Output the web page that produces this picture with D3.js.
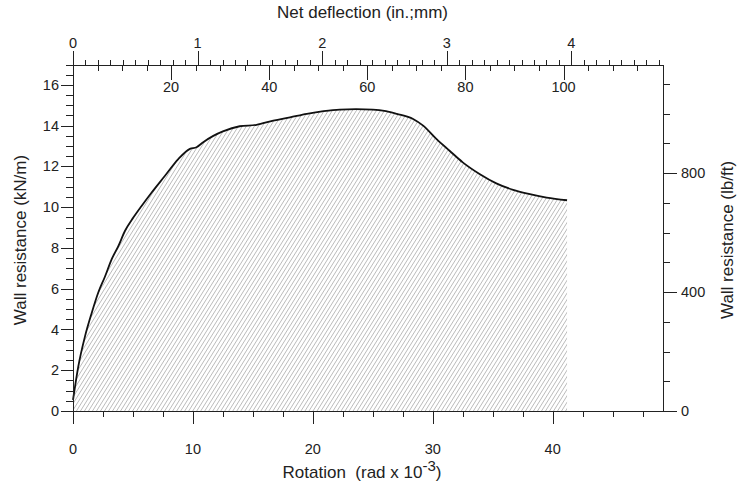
<!DOCTYPE html>
<html>
<head>
<meta charset="utf-8">
<script src="https://cdn.jsdelivr.net/npm/d3@7/dist/d3.min.js"></script>
<style>
  body { margin: 0; background: #fff; }
  svg { display: block; font-family: "Liberation Sans", Arial, sans-serif; }
  .axis path, .axis line { stroke: #222; stroke-width: 1; shape-rendering: crispEdges; }
  .axis text { fill: #222; font-size: 14.5px; font-family: "Liberation Sans", Arial, sans-serif; }
  .title { fill: #222; font-size: 17px; font-family: "Liberation Sans", Arial, sans-serif; }
</style>
</head>
<body>
<svg id="chart" width="738" height="485"></svg>
<script>
// Data (rotation in rad x 10^-3, wall resistance in kN/m)
const rotation = [0, 0.44, 1.0, 1.56, 2.1, 2.67, 3.22, 3.78, 4.33, 5.03, 5.72, 6.56, 7.67, 8.78, 9.75, 10.3, 10.86, 11.7, 12.5, 13.9, 15.3, 16.7, 18.1, 19.5, 20.9, 22.25, 23.6, 25.0, 26.1, 27.0, 28.36, 29.2, 30.3, 31.4, 32.5, 33.9, 35.3, 36.7, 38.1, 39.5, 41.2];
const resistance = [0.54, 2.18, 3.66, 4.81, 5.8, 6.6, 7.44, 8.09, 8.83, 9.49, 10.06, 10.72, 11.54, 12.36, 12.86, 12.94, 13.19, 13.5, 13.72, 13.97, 14.04, 14.25, 14.41, 14.58, 14.71, 14.79, 14.81, 14.79, 14.71, 14.58, 14.33, 14.0, 13.35, 12.77, 12.2, 11.63, 11.17, 10.85, 10.64, 10.47, 10.34];

const bottomTicks = [0, 10, 20, 30, 40];
const leftTicks = [0, 2, 4, 6, 8, 10, 12, 14, 16];
const rightTicks = [0, 400, 800];
const inchTicks = [0, 1, 2, 3, 4];
const mmTicks = [20, 40, 60, 80, 100];

const L = 73, R = 663, T = 64.5, B = 411;
const svg = d3.select("#chart");

const x = d3.scaleLinear().domain([0, 49.2]).range([L, R]);
const y = d3.scaleLinear().domain([0, 17]).range([B, T]);
const yLb = d3.scaleLinear().domain([0, 17 * 68.5218]).range([B, T]);
const inch = d3.scaleLinear().domain([0, (R - L) / 124.6]).range([L, R]);
const mm = d3.scaleLinear().domain([0, (R - L) / 124.6 * 25.4]).range([L, R]);

// Hatch pattern
const defs = svg.append("defs");
const pat = defs.append("pattern").attr("id", "hatch").attr("patternUnits", "userSpaceOnUse")
  .attr("width", 3.4).attr("height", 3.4).attr("patternTransform", "rotate(32)");
pat.append("line").attr("x1", 0).attr("y1", -1).attr("x2", 0).attr("y2", 4.4)
  .attr("stroke", "#959595").attr("stroke-width", 1.1);

const data = rotation.map((r, i) => ({ r, v: resistance[i] }));

svg.append("path").datum(data)
  .attr("d", d3.area().x(d => x(d.r)).y0(y(0)).y1(d => y(d.v)).curve(d3.curveMonotoneX))
  .attr("fill", "url(#hatch)");

svg.append("path").datum(data)
  .attr("d", d3.line().x(d => x(d.r)).y(d => y(d.v)).curve(d3.curveMonotoneX))
  .attr("fill", "none").attr("stroke", "#111").attr("stroke-width", 1.8);

// Bottom axis
const gB = svg.append("g").attr("class", "axis").attr("transform", `translate(0,${B})`);
gB.call(d3.axisBottom(x).tickValues(d3.range(0, 49.2, 2.5)).tickSize(6).tickFormat("").tickSizeOuter(0));
gB.selectAll(".tick line").filter(d => bottomTicks.includes(d)).attr("y2", 13);
gB.selectAll(".label").data(bottomTicks).join("text").attr("class", "label")
  .attr("x", d => x(d)).attr("y", 42.5).attr("text-anchor", "middle").text(d => d);

// Left axis
const gL = svg.append("g").attr("class", "axis").attr("transform", `translate(${L},0)`);
gL.call(d3.axisLeft(y).tickValues(d3.range(0, 17.01, 0.5)).tickSize(7).tickFormat("").tickSizeOuter(0));
gL.selectAll(".tick line").filter(d => leftTicks.includes(d)).attr("x2", -12);
gL.selectAll(".label").data(leftTicks).join("text").attr("class", "label")
  .attr("x", -14).attr("y", d => y(d)).attr("dy", "0.35em").attr("text-anchor", "end").text(d => d);

// Right axis
const gR = svg.append("g").attr("class", "axis").attr("transform", `translate(${R},0)`);
gR.call(d3.axisRight(yLb).tickValues(d3.range(0, 1101, 100)).tickSize(7).tickFormat("").tickSizeOuter(0));
gR.selectAll(".tick line").filter(d => rightTicks.includes(d)).attr("x2", 14);
gR.selectAll(".label").data(rightTicks).join("text").attr("class", "label")
  .attr("x", 18).attr("y", d => yLb(d)).attr("dy", "0.35em").attr("text-anchor", "start").text(d => d);

// Top axis (inches, up) and (mm, down)
const gT = svg.append("g").attr("class", "axis").attr("transform", `translate(0,${T})`);
gT.call(d3.axisTop(inch).tickValues(d3.range(0, 4.74, 0.1)).tickSize(5).tickFormat("").tickSizeOuter(0));
gT.selectAll(".tick line").filter(d => inchTicks.some(t => Math.abs(t - d) < 1e-6)).attr("y2", -14);
gT.selectAll(".label").data(inchTicks).join("text").attr("class", "label")
  .attr("x", d => inch(d)).attr("y", -16.5).attr("text-anchor", "middle").text(d => d);

const gM = svg.append("g").attr("class", "axis").attr("transform", `translate(0,${T})`);
gM.call(d3.axisBottom(mm).tickValues(d3.range(5, 120, 5)).tickSize(6).tickFormat("").tickSizeOuter(0));
gM.select(".domain").remove();
gM.selectAll(".tick line").filter(d => mmTicks.includes(d)).attr("y2", 15);
gM.selectAll(".label").data(mmTicks).join("text").attr("class", "label")
  .attr("x", d => mm(d)).attr("y", 27.5).attr("text-anchor", "middle").text(d => d);

// Corner detail
svg.append("line").attr("x1", L).attr("x2", L).attr("y1", B).attr("y2", B + 13)
  .attr("stroke", "#222").attr("shape-rendering", "crispEdges");

// Titles
svg.append("text").attr("class", "title").attr("x", 362.5).attr("y", 18).attr("text-anchor", "middle")
  .text("Net deflection (in.;mm)");

const bt = svg.append("text").attr("class", "title").attr("x", 362).attr("y", 478).attr("text-anchor", "middle");
bt.append("tspan").text("Rotation\u00A0\u00A0(rad x 10");
bt.append("tspan").attr("dy", -7).attr("font-size", 15).text("-3");
bt.append("tspan").attr("dy", 7).text(")");

svg.append("text").attr("class", "title").attr("transform", "translate(26,240) rotate(-90)")
  .attr("text-anchor", "middle").text("Wall resistance (kN/m)");

svg.append("text").attr("class", "title").attr("transform", "translate(733,240) rotate(-90)")
  .attr("text-anchor", "middle").text("Wall resistance (lb/ft)");
</script>
</body>
</html>
